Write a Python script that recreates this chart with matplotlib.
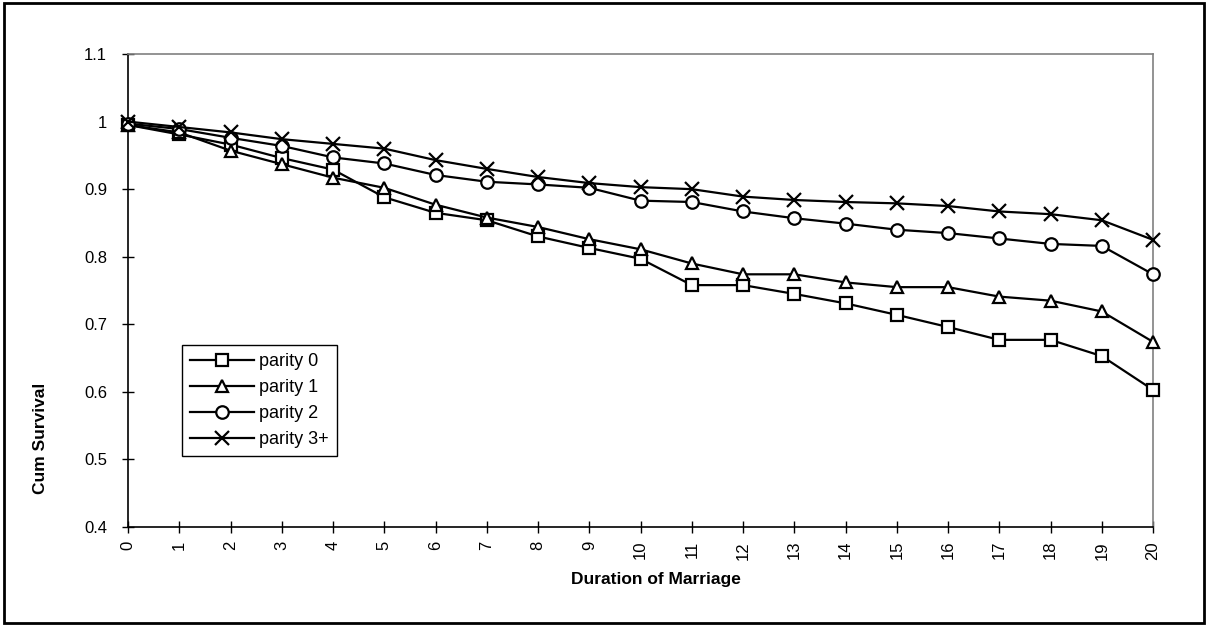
import numpy as np
import matplotlib.pyplot as plt
from matplotlib.patches import Rectangle

plt.rcParams['font.family'] = ['Liberation Sans', 'DejaVu Sans']

duracion = list(range(0, 21))

parity0 = [0.995, 0.981, 0.966, 0.946, 0.929, 0.888, 0.865, 0.854, 0.830, 0.813, 0.797,
           0.758, 0.758, 0.745, 0.731, 0.714, 0.696, 0.677, 0.677, 0.653, 0.603]
parity1 = [0.995, 0.984, 0.957, 0.937, 0.917, 0.902, 0.877, 0.858, 0.844, 0.826, 0.811,
           0.790, 0.774, 0.774, 0.762, 0.755, 0.755, 0.741, 0.735, 0.719, 0.674]
parity2 = [0.997, 0.989, 0.976, 0.964, 0.947, 0.938, 0.921, 0.911, 0.907, 0.902, 0.883,
           0.881, 0.867, 0.857, 0.849, 0.840, 0.835, 0.827, 0.819, 0.816, 0.774]
parity3 = [1.000, 0.992, 0.984, 0.974, 0.967, 0.960, 0.943, 0.930, 0.918, 0.909, 0.903,
           0.900, 0.889, 0.884, 0.881, 0.879, 0.875, 0.867, 0.863, 0.854, 0.825]

series = [
    ('parity 0', parity0, 's'),
    ('parity 1', parity1, '^'),
    ('parity 2', parity2, 'o'),
    ('parity 3+', parity3, 'x'),
]

fig = plt.figure(figsize=(12.09, 6.26), dpi=100)
ax = fig.add_axes([0.1059, 0.1581, 0.8478, 0.7556])

for etiqueta, valores, marcador in series:
    ax.plot(duracion, valores, color='black', linewidth=1.6, marker=marcador,
            markersize=9 if marcador != 'x' else 10, markerfacecolor='white',
            markeredgecolor='black', markeredgewidth=1.6, label=etiqueta,
            clip_on=False, zorder=3)

ax.set_xlim(0, 20)
ax.set_ylim(0.4, 1.1)
ax.set_xticks(duracion)
ax.set_xticklabels([str(d) for d in duracion], rotation=90)
ax.set_yticks(np.arange(0.4, 1.15, 0.1))
ax.set_yticklabels(['0.4', '0.5', '0.6', '0.7', '0.8', '0.9', '1', '1.1'])
ax.tick_params(direction='inout', length=8, width=1, labelsize=12, color='black')
ax.tick_params(axis='y', pad=11)
ax.tick_params(axis='x', pad=6)

for lado in ['top', 'right']:
    ax.spines[lado].set_color('#808080')
    ax.spines[lado].set_linewidth(1.2)
for lado in ['left', 'bottom']:
    ax.spines[lado].set_color('black')
    ax.spines[lado].set_linewidth(1.2)

ax.set_xlabel('Duration of Marriage', fontsize=12.5, fontweight='bold', va='center')
ax.set_ylabel('Cum Survival', fontsize=12.5, fontweight='bold', va='center')
ax.xaxis.set_label_coords(0.515, -0.110)
ax.yaxis.set_label_coords(-0.085, 0.188)

leyenda = ax.legend(loc='upper left', bbox_to_anchor=(0.053, 0.385), fontsize=13,
                    frameon=True, fancybox=False, edgecolor='black', framealpha=1,
                    handlelength=3.5, borderpad=0.45, labelspacing=0.5, handletextpad=0.3,
                    borderaxespad=0)
leyenda.get_frame().set_linewidth(1.0)

# marco exterior del grafico
fig.patches.append(Rectangle((0.003, 0.004), 0.993, 0.991, transform=fig.transFigure,
                             fill=False, edgecolor='black', linewidth=2))

plt.savefig('out.png', dpi=100)
